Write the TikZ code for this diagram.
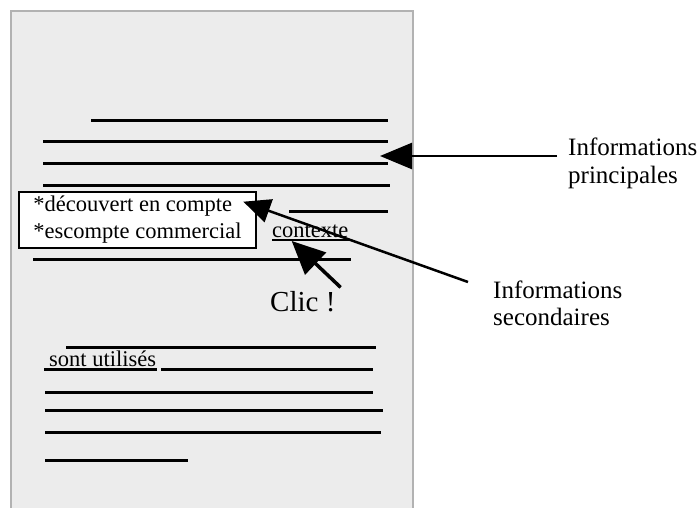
\documentclass[tikz,border=0pt]{standalone}
\usepackage{fontspec}
\setmainfont{Liberation Serif}
\usetikzlibrary{arrows.meta}

\def\pagesheet{(11,11) rectangle (413,508)}

\tikzset{
	textline/.style={line width=3pt},
	underbar/.style={line width=2.5pt},
	pointer/.style={line width=2.5pt,-{Triangle[length=30pt,width=26pt]}},
	sidetext/.style={align=left,inner sep=0pt,font=\fontsize{25}{27.7}\selectfont},
	wordtext/.style={inner sep=0pt,font=\fontsize{22.5}{27}\selectfont},
	termbox/.style={draw,line width=2pt,fill=white,outer sep=0pt,minimum width=237pt,minimum height=56pt,align=left,font=\fontsize{22.5}{27}\selectfont}
}

\begin{document}
\begin{tikzpicture}[x=1pt,y=-1pt]
	
	\useasboundingbox (0,0) rectangle (699,508);
	\fill[gray!15] \pagesheet;
	\draw[gray!60,line width=1.5pt] (11,508) -- (11,11) -- (413,11) -- (413,508);
	
	\foreach \y/\a/\b in {120.7/91/388, 141.3/43/388, 163.7/43/388, 185.3/43/390, 211/289/388, 259/33/351, 347.3/66/376, 369.3/161/373, 392.7/45/373, 410/45/383, 432.7/45/381, 460/45/188}
		\draw[textline] (\a,\y) -- (\b,\y);
	
	\node[termbox,anchor=north west] (terms) at (19,192) {*découvert en compte\\*escompte commercial};
	\node[wordtext,anchor=base west] (ctx) at (272,237) {contexte};
	\node[wordtext,anchor=base west] (used) at (49,366.7) {sont utilisés};
	\node[inner sep=0pt,anchor=base west,font=\fontsize{29}{35}\selectfont] (clic) at (270,311.7) {Clic !};
	\node[sidetext,anchor=north west] (princ) at (568,138) {Informations\\principales};
	\node[sidetext,anchor=north west] (second) at (493,280.3) {Informations\\secondaires};
	
	\draw[underbar] ([yshift=-3pt]ctx.base west) -- ([yshift=-3pt]ctx.base east);
	\draw[underbar] ([shift={(-5,2.6)}]used.base west) -- ([shift={(1,2.6)}]used.base east);
	
	\coordinate (princTip) at (380,156);
	\coordinate (secondTip) at (243.3,201.7);
	\coordinate (clicTip) at (291.7,241);
	\draw[pointer,-{Triangle[length=32pt,width=26pt]}] ([shift={(-11,18)}]princ.north west) -- (princTip);
	\draw[pointer,-{Triangle[length=27pt,width=24pt]}] ([shift={(-25,1.7)}]second.north west) -- (secondTip);
	\draw[pointer,line width=3.5pt,-{Triangle[length=33pt,width=30pt]}] ([shift={(5,-4)}]clic.north east) -- (clicTip);
	
\end{tikzpicture}
\end{document}
